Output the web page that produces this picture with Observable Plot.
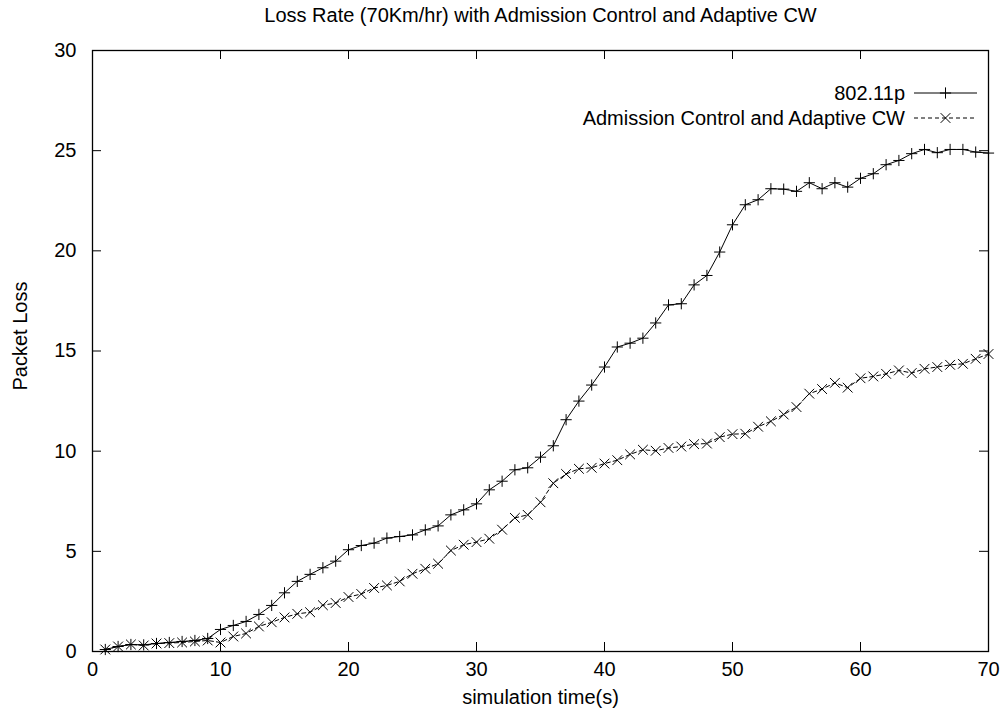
<!DOCTYPE html>
<html>
<head>
<meta charset="utf-8">
<script src="https://cdn.jsdelivr.net/npm/d3@7"></script>
<script src="https://cdn.jsdelivr.net/npm/@observablehq/plot@0.6"></script>
<style>
  html, body { margin: 0; padding: 0; background: #fff; }
  #chart svg { display: block; }
</style>
</head>
<body>
<div id="chart"></div>
<script>
// Chart text
const chartTitle = "Loss Rate (70Km/hr) with Admission Control and Adaptive CW";
const xLabel = "simulation time(s)";
const yLabel = "Packet Loss";
const seriesNames = ["802.11p", "Admission Control and Adaptive CW"];

// Simulation time, one sample per second
const seconds = [
  1, 2, 3, 4, 5, 6, 7, 8, 9, 10,
  11, 12, 13, 14, 15, 16, 17, 18, 19, 20,
  21, 22, 23, 24, 25, 26, 27, 28, 29, 30,
  31, 32, 33, 34, 35, 36, 37, 38, 39, 40,
  41, 42, 43, 44, 45, 46, 47, 48, 49, 50,
  51, 52, 53, 54, 55, 56, 57, 58, 59, 60,
  61, 62, 63, 64, 65, 66, 67, 68, 69, 70
];

// Packet loss, plain 802.11p
const loss80211p = [
  0.10, 0.25, 0.35, 0.33, 0.40, 0.45, 0.50, 0.55, 0.65, 1.10,
  1.30, 1.50, 1.85, 2.30, 2.93, 3.50, 3.85, 4.18, 4.51, 5.08,
  5.29, 5.41, 5.66, 5.74, 5.82, 6.07, 6.27, 6.82, 7.07, 7.37,
  8.07, 8.50, 9.07, 9.17, 9.70, 10.27, 11.57, 12.50, 13.30, 14.20,
  15.20, 15.39, 15.64, 16.40, 17.30, 17.36, 18.30, 18.77, 19.94, 21.30,
  22.30, 22.55, 23.10, 23.08, 22.97, 23.40, 23.10, 23.40, 23.18, 23.62,
  23.85, 24.30, 24.51, 24.85, 25.06, 24.90, 25.06, 25.06, 24.93, 24.88
];

// Packet loss with admission control and adaptive contention window
const lossAdmission = [
  0.10, 0.25, 0.35, 0.30, 0.40, 0.42, 0.45, 0.50, 0.55, 0.45,
  0.75, 0.90, 1.25, 1.46, 1.70, 1.88, 1.96, 2.31, 2.42, 2.72,
  2.87, 3.17, 3.30, 3.50, 3.88, 4.13, 4.38, 5.04, 5.33, 5.46,
  5.63, 6.08, 6.67, 6.82, 7.45, 8.40, 8.86, 9.12, 9.17, 9.38,
  9.55, 9.84, 10.07, 10.02, 10.16, 10.23, 10.35, 10.38, 10.70, 10.85,
  10.87, 11.22, 11.49, 11.83, 12.20, 12.87, 13.10, 13.41, 13.17, 13.64,
  13.73, 13.86, 14.03, 13.90, 14.11, 14.20, 14.31, 14.36, 14.61, 14.85
];

// Axis ticks
const xTicks = [0, 10, 20, 30, 40, 50, 60, 70];
const yTicks = [0, 5, 10, 15, 20, 25, 30];

// Layout
const W = 1007, H = 717;
const mL = 92, mR = 19, mT = 50, mB = 66;
const frameW = W - mL - mR, frameH = H - mT - mB;
const tickLen = 9;
const font = "'Liberation Sans', Arial, Helvetica, sans-serif";
const fontSize = 20;

const rowsP = seconds.map((t, i) => ({t, v: loss80211p[i]}));
const rowsA = seconds.map((t, i) => ({t, v: lossAdmission[i]}));

const dash = "4,3";

const chart = Plot.plot({
  width: W,
  height: H,
  marginLeft: mL,
  marginRight: mR,
  marginTop: mT,
  marginBottom: mB,
  style: {fontFamily: font, fontSize: fontSize + "px", background: "#fff", color: "#000", overflow: "visible"},
  x: {domain: [0, 70]},
  y: {domain: [0, 30]},
  marks: [
    // inward ticks on all four sides
    Plot.tickX(xTicks, {x: d => d, insetTop: frameH - tickLen, stroke: "#000"}),
    Plot.tickX(xTicks, {x: d => d, insetBottom: frameH - tickLen, stroke: "#000"}),
    Plot.tickY(yTicks, {y: d => d, insetRight: frameW - tickLen, stroke: "#000"}),
    Plot.tickY(yTicks, {y: d => d, insetLeft: frameW - tickLen, stroke: "#000"}),
    Plot.axisX(xTicks, {tickSize: 0, tickPadding: 10, label: null, fontSize}),
    Plot.axisY(yTicks, {tickSize: 0, tickPadding: 16, label: null, fontSize}),

    // series
    Plot.line(rowsP, {x: "t", y: "v", stroke: "#000", strokeWidth: 1}),
    Plot.dot(rowsP, {x: "t", y: "v", symbol: "plus", r: 3.7, stroke: "#000", strokeWidth: 1}),
    Plot.line(rowsA, {x: "t", y: "v", stroke: "#000", strokeWidth: 1, strokeDasharray: dash}),
    Plot.dot(rowsA, {x: "t", y: "v", symbol: "times", r: 4.5, stroke: "#000", strokeWidth: 1}),

    Plot.frame({stroke: "#000", strokeWidth: 1.3}),

    // titles
    Plot.text([chartTitle], {frameAnchor: "top", dy: -35, lineAnchor: "middle", fontSize, fill: "#000"}),
    Plot.text([xLabel], {frameAnchor: "bottom", dy: 46, lineAnchor: "middle", fontSize, fill: "#000"}),
    Plot.text([yLabel], {frameAnchor: "left", dx: -72, dy: -15, rotate: -90, textAnchor: "middle", lineAnchor: "middle", fontSize, fill: "#000"})
  ]
});

document.getElementById("chart").appendChild(chart);

// Key in the upper right corner of the plot area
const svg = d3.select(chart);
const key = svg.append("g")
  .attr("font-family", font)
  .attr("font-size", fontSize);
const keyTextX = 905, keyLine = [914, 977], keyRows = [93, 118];
const keyItems = [
  {name: seriesNames[0], symbol: d3.symbolPlus, r: 3.7, dash: null},
  {name: seriesNames[1], symbol: d3.symbolTimes, r: 4.5, dash: dash}
];
keyItems.forEach((item, i) => {
  const y = keyRows[i];
  key.append("text")
    .attr("x", keyTextX).attr("y", y)
    .attr("text-anchor", "end")
    .attr("dominant-baseline", "central")
    .attr("fill", "#000")
    .text(item.name);
  key.append("line")
    .attr("x1", keyLine[0]).attr("x2", keyLine[1])
    .attr("y1", y).attr("y2", y)
    .attr("stroke", "#000")
    .attr("stroke-dasharray", item.dash);
  key.append("path")
    .attr("transform", `translate(${(keyLine[0] + keyLine[1]) / 2},${y})`)
    .attr("d", d3.symbol(item.symbol, item.r * item.r * Math.PI)())
    .attr("fill", "none")
    .attr("stroke", "#000");
});
</script>
</body>
</html>
